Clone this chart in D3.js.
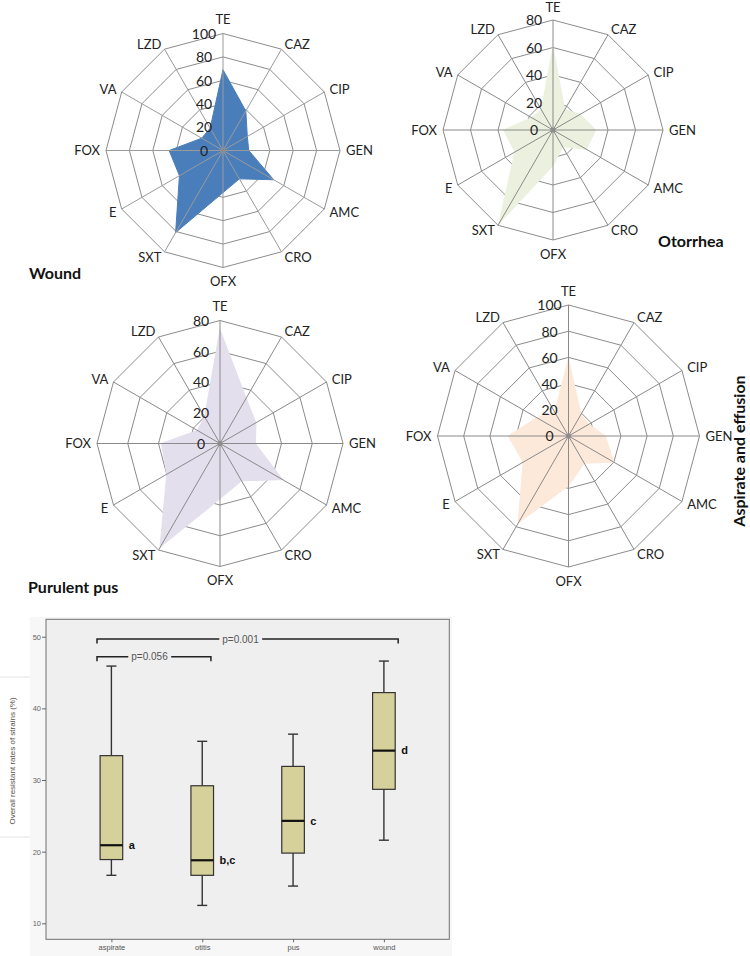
<!DOCTYPE html>
<html><head><meta charset="utf-8">
<script src="https://cdn.jsdelivr.net/npm/d3@7"></script>
<style>body{margin:0;background:#fff}svg{display:block}</style>
</head><body><svg id="c" width="750" height="956"></svg>
<script>
// ---------- DATA ----------
const antibiotics = ["TE","CAZ","CIP","GEN","AMC","CRO","OFX","SXT","E","FOX","VA","LZD"];
const woundValues    = [69, 39, 24, 22, 50, 28, 36, 81, 43, 46, 21, 22];
const otorrheaValues = [60, 17, 23, 31, 28, 14, 26, 79, 32, 36, 18, 17];
const pusValues      = [74, 34, 27, 23, 47, 28, 36, 78, 40, 38, 17, 20];
const aspirateValues = [59, 19, 18, 28, 40, 24, 38, 77, 40, 46, 28, 21];
const ticks100 = [0, 20, 40, 60, 80, 100];
const ticks80  = [0, 20, 40, 60, 80];

const sites      = ["aspirate", "otitis", "pus", "wound"];
const boxMin     = [16.7, 12.5, 15.2, 21.6];
const boxQ1      = [18.9, 16.7, 19.8, 28.7];
const boxMedian  = [20.9, 18.8, 24.3, 34.1];
const boxQ3      = [33.4, 29.2, 31.9, 42.2];
const boxMax     = [45.9, 35.4, 36.4, 46.6];
const boxLetters = ["a", "b,c", "c", "d"];
const boxTicks   = [10, 20, 30, 40, 50];
const pLabels    = ["p=0.001", "p=0.056"];
const pLevels    = [49.67, 47.2];

// ---------- LAYOUT ----------
const svg = d3.select("#c");
const radarFont = "Lato, 'Open Sans', sans-serif";
const radars = [
  {values: woundValues,    cx: 223,   cy: 150.5, r: 117, max: 100, ticks: ticks100, fill: "#4a7ebb", stroke: "#4a7ebb", spoke: "#9a9a9a"},
  {values: otorrheaValues, cx: 553,   cy: 130,   r: 110, max: 80,  ticks: ticks80,  fill: "#ebf1de", stroke: "#ebf1de", spoke: "#8a8a8a"},
  {values: pusValues,      cx: 220,   cy: 443.5, r: 123, max: 80,  ticks: ticks80,  fill: "#e4dfec", stroke: "#e4dfec", spoke: "#8a8a8a"},
  {values: aspirateValues, cx: 568.5, cy: 436,   r: 131, max: 100, ticks: ticks100, fill: "#fde9d9", stroke: "#fde9d9", spoke: "#8a8a8a"}
];

function drawRadar(cfg) {
  const g = svg.append("g").attr("transform", `translate(${cfg.cx},${cfg.cy})`);
  const ang = d3.scaleBand().domain(antibiotics).range([0, 2 * Math.PI]).paddingInner(0).paddingOuter(0);
  const rad = d3.scaleLinear().domain([0, cfg.max]).range([0, cfg.r]);
  // rings
  cfg.ticks.filter(t => t > 0).forEach(t => {
    const ring = d3.lineRadial().angle(a => ang(a)).radius(rad(t)).curve(d3.curveLinearClosed);
    g.append("path").attr("d", ring(antibiotics))
      .attr("fill", "none").attr("stroke", "#8c8c8c").attr("stroke-width", 1);
  });
  // series area
  const data = antibiotics.map((a, i) => ({a, v: cfg.values[i]}));
  const area = d3.lineRadial().angle(d => ang(d.a)).radius(d => rad(d.v)).curve(d3.curveLinearClosed);
  g.append("path").attr("d", area(data))
    .attr("fill", cfg.fill).attr("stroke", cfg.stroke).attr("stroke-width", 1);
  // spokes
  antibiotics.forEach(a => {
    const t = ang(a);
    g.append("line").attr("x1", 0).attr("y1", 0)
      .attr("x2", Math.sin(t) * cfg.r).attr("y2", -Math.cos(t) * cfg.r)
      .attr("stroke", cfg.spoke).attr("stroke-width", 1);
  });
  g.append("circle").attr("r", 2.5).attr("fill", "#8c8c8c");
  // category labels
  antibiotics.forEach(a => {
    const t = ang(a), s = Math.sin(t), c = Math.cos(t);
    const vertical = Math.abs(s) < 0.1;
    const off = vertical ? 14 : 6;
    let ly = -c * (cfg.r + off);
    ly = Math.max(ly, 7 - cfg.cy); // keep inside the page
    g.append("text")
      .attr("x", s * (cfg.r + off)).attr("y", ly)
      .attr("dy", "0.35em")
      .attr("text-anchor", vertical ? "middle" : (s > 0 ? "start" : "end"))
      .attr("font-family", radarFont).attr("font-size", 13).attr("fill", "#222")
      .text(a);
  });
  // tick labels
  cfg.ticks.forEach(t => {
    g.append("text")
      .attr("x", -19).attr("y", -rad(t)).attr("dy", "0.38em")
      .attr("text-anchor", "middle")
      .attr("font-family", radarFont).attr("font-size", 14).attr("fill", "#222")
      .text(t);
  });
}
radars.forEach(drawRadar);

// radar titles
const titleStyle = sel => sel.attr("font-family", radarFont).attr("font-weight", "bold")
  .attr("font-size", 16).attr("fill", "#111");
svg.append("text").attr("x", 29).attr("y", 279).text("Wound").call(titleStyle);
svg.append("text").attr("x", 658).attr("y", 247).text("Otorrhea").call(titleStyle);
svg.append("text").attr("x", 28).attr("y", 593).text("Purulent pus").call(titleStyle);
svg.append("text").attr("transform", "translate(745,451) rotate(-90)")
  .attr("text-anchor", "middle").text("Aspirate and effusion").call(titleStyle);

// ---------- BOX PLOT ----------
const boxFont = "'Liberation Sans', Arial, sans-serif";
const plot = {left: 46, right: 449.3, top: 619.3, bottom: 939.3};
svg.append("rect").attr("x", 30).attr("y", 617).attr("width", 422).attr("height", 339).attr("fill", "#f7f7f7");
svg.append("rect").attr("x", 0).attr("y", 677).attr("width", 30).attr("height", 160).attr("fill", "#fff");
svg.append("line").attr("x1", 0).attr("x2", 30).attr("y1", 677).attr("y2", 677).attr("stroke", "#e4e4e4");
svg.append("line").attr("x1", 0).attr("x2", 30).attr("y1", 837).attr("y2", 837).attr("stroke", "#e4e4e4");
svg.append("rect").attr("x", plot.left).attr("y", plot.top)
  .attr("width", plot.right - plot.left).attr("height", plot.bottom - plot.top)
  .attr("fill", "#efefef").attr("stroke", "#707070").attr("stroke-width", 1);

const y = d3.scaleLinear().domain([7.77, 52.43]).range([plot.bottom, plot.top]);
const x = d3.scalePoint().domain(sites).range([plot.left, plot.right]).padding(0.72);

const yAxis = svg.append("g").attr("transform", `translate(${plot.left},0)`)
  .call(d3.axisLeft(y).tickValues(boxTicks).tickSize(4).tickPadding(1));
yAxis.select(".domain").remove();
yAxis.selectAll("line").attr("stroke", "#666");
yAxis.selectAll("text").attr("font-family", boxFont).attr("font-size", 7.5).attr("fill", "#666");

const xAxis = svg.append("g").attr("transform", `translate(0,${plot.bottom})`)
  .call(d3.axisBottom(x).tickSize(3).tickPadding(2));
xAxis.select(".domain").remove();
xAxis.selectAll("line").attr("stroke", "#666");
xAxis.selectAll("text").attr("font-family", boxFont).attr("font-size", 7.5).attr("fill", "#555");

svg.append("text").attr("transform", "translate(15,761) rotate(-90)")
  .attr("text-anchor", "middle").attr("font-family", boxFont).attr("font-size", 8)
  .attr("fill", "#5a5048").text("Overall resistant rates of strains (%)");

const boxW = 22.6, capW = 10;
sites.forEach((s, i) => {
  const cx = x(s);
  const g = svg.append("g");
  g.append("line").attr("x1", cx).attr("x2", cx).attr("y1", y(boxMin[i])).attr("y2", y(boxQ1[i]))
    .attr("stroke", "#333").attr("stroke-width", 1.4);
  g.append("line").attr("x1", cx).attr("x2", cx).attr("y1", y(boxQ3[i])).attr("y2", y(boxMax[i]))
    .attr("stroke", "#333").attr("stroke-width", 1.4);
  [boxMin[i], boxMax[i]].forEach(v => g.append("line")
    .attr("x1", cx - capW / 2).attr("x2", cx + capW / 2).attr("y1", y(v)).attr("y2", y(v))
    .attr("stroke", "#333").attr("stroke-width", 1.4));
  g.append("rect").attr("x", cx - boxW / 2).attr("y", y(boxQ3[i]))
    .attr("width", boxW).attr("height", y(boxQ1[i]) - y(boxQ3[i]))
    .attr("fill", "#d6d09a").attr("stroke", "#333").attr("stroke-width", 1.2);
  g.append("line").attr("x1", cx - boxW / 2).attr("x2", cx + boxW / 2)
    .attr("y1", y(boxMedian[i])).attr("y2", y(boxMedian[i]))
    .attr("stroke", "#111").attr("stroke-width", 2.2);
  g.append("text").attr("x", cx + boxW / 2 + 6).attr("y", y(boxMedian[i])).attr("dy", "0.35em")
    .attr("font-family", boxFont).attr("font-weight", "bold").attr("font-size", 11)
    .attr("fill", "#111").text(boxLetters[i]);
});

// significance brackets
const brackets = [
  {x1: x("aspirate") - 14.4, x2: x("wound") + 14.3, label: pLabels[0], level: pLevels[0], lx: 240.5},
  {x1: x("aspirate") - 14.4, x2: x("otitis") + 8.7, label: pLabels[1], level: pLevels[1], lx: 149.5}
];
brackets.forEach(b => {
  const yy = y(b.level);
  svg.append("path")
    .attr("d", `M${b.x1},${yy + 4.5}V${yy}H${b.x2}V${yy + 4.5}`)
    .attr("fill", "none").attr("stroke", "#222").attr("stroke-width", 1.5);
  const t = svg.append("text").attr("x", b.lx).attr("y", yy).attr("dy", "0.35em")
    .attr("text-anchor", "middle").attr("font-family", boxFont).attr("font-size", 10)
    .attr("fill", "#555").text(b.label);
  const bb = t.node().getBBox();
  svg.insert("rect", () => t.node()).attr("x", bb.x - 3).attr("y", bb.y).attr("width", bb.width + 6)
    .attr("height", bb.height).attr("fill", "#efefef");
});
</script></body></html>
